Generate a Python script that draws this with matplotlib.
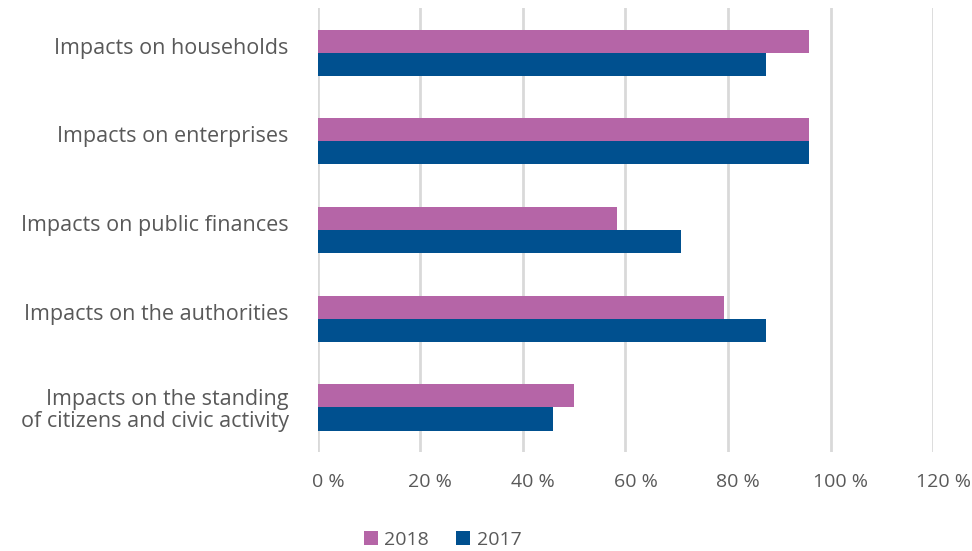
import numpy as np
import matplotlib.pyplot as plt
from matplotlib.transforms import ScaledTranslation

plt.rcParams['font.family'] = ['Open Sans', 'DejaVu Sans']

categories = [
    "Impacts on households",
    "Impacts on enterprises",
    "Impacts on public finances",
    "Impacts on the authorities",
    "Impacts on the standing\nof citizens and civic activity",
]
share_2018 = [95.8, 95.8, 58.3, 79.2, 50.0]
share_2017 = [87.5, 95.8, 70.8, 87.5, 45.8]
ticks = [0, 20, 40, 60, 80, 100, 120]

PINK = "#B565A7"
BLUE = "#00508F"
TEXT = "#595959"

fig = plt.figure(figsize=(9.72, 5.51), dpi=100)
ax = fig.add_axes([0.327, 0.18, 0.633, 0.805])

y = np.arange(len(categories))
h = 0.26
ax.barh(y - h / 2, share_2018, height=h, color=PINK, label="2018", zorder=3)
ax.barh(y + h / 2, share_2017, height=h, color=BLUE, label="2017", zorder=3)

ax.set_ylim(len(categories) - 0.5, -0.5)
ax.set_xlim(0, 120)
ax.set_xticks(ticks)
ax.set_xticklabels([f"{t} %" for t in ticks], fontsize=14, color=TEXT)
ax.set_yticks(y)
ax.set_yticklabels(categories, fontsize=15.5, color=TEXT, linespacing=1.05)
ax.tick_params(axis="both", length=0)
ax.tick_params(axis="x", pad=15)
ax.tick_params(axis="y", pad=21)

# percent labels sit a little right of their gridlines
shift = ScaledTranslation(10 / 100, 0, fig.dpi_scale_trans)
for lbl in ax.get_xticklabels():
    lbl.set_transform(lbl.get_transform() + shift)
# one-line category labels ride slightly above the bar pair
lift = ScaledTranslation(0, 7 / 100, fig.dpi_scale_trans)
for lbl in ax.get_yticklabels():
    if "\n" not in lbl.get_text():
        lbl.set_transform(lbl.get_transform() + lift)

ax.grid(axis="x", color="#D9D9D9", linewidth=2, zorder=0)
for s in ax.spines.values():
    s.set_visible(False)

leg = ax.legend(loc="center", bbox_to_anchor=(0.203, -0.198), ncol=2,
                frameon=False, fontsize=14, handlelength=0.7, handleheight=0.7,
                handletextpad=0.35, columnspacing=1.4, borderpad=0)
for t in leg.get_texts():
    t.set_color(TEXT)

fig.savefig("out.png", dpi=100)
